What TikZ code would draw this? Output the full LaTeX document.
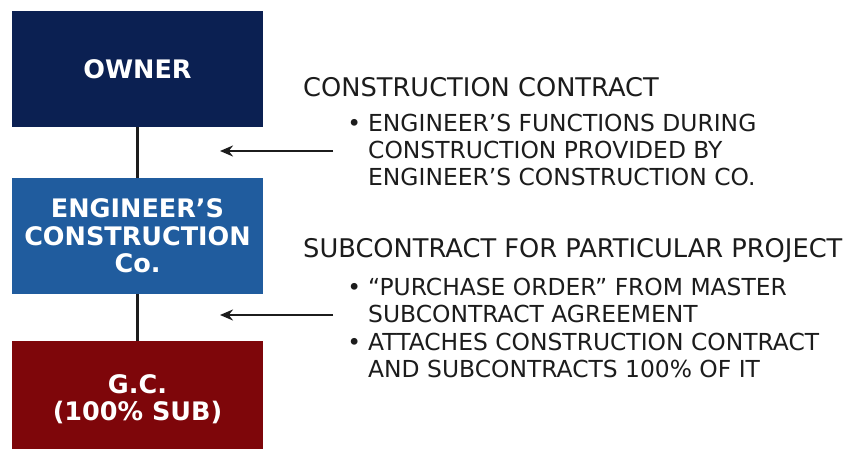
\documentclass[tikz,border=0pt]{standalone}
\usepackage{fontspec}
\setmainfont{DejaVu Sans}
\usetikzlibrary{arrows.meta}
\usetikzlibrary{positioning}
\definecolor{ownernavy}{RGB}{11,32,82}
\definecolor{engblue}{RGB}{32,92,158}
\definecolor{gcred}{RGB}{126,6,10}
\definecolor{textgray}{RGB}{28,28,28}

\begin{document}
\begin{tikzpicture}[x=1pt, y=-1pt,
    party/.style={rectangle, minimum width=251pt, minimum height=116pt, inner sep=0pt,
                  text=white, align=center, font=\fontsize{25.5}{27.5}\selectfont\bfseries},
    heading/.style={anchor=base west, inner sep=0pt, text=textgray,
                 font=\fontsize{25.7}{27}\selectfont},
    note/.style={anchor=base west, inner sep=0pt, align=left, text=textgray,
                 font=\fontsize{23.4}{27}\selectfont},
    link/.style={line width=2.2pt, textgray}]
        \useasboundingbox[fill=white] (0,0) rectangle (849,449);

        \node[party, fill=ownernavy] (owner) at (137.5,69)  {OWNER};
        \node[party, fill=engblue]   (eng)   at (137.5,236) {ENGINEER’S\\CONSTRUCTION\\Co.};
        \node[party, fill=gcred]     (gc)    at (137.5,399) {G.C.\\(100\% SUB)};

        \draw[link] (owner.south) -- (eng.north);
        \draw[link] (eng.south) -- (gc.north);

        % base anchor of the notes sits on their last line
        \node[heading] (cc)     at (303,97)  {CONSTRUCTION CONTRACT};
        \node[note]    (ccnote) at (368,186) {\llap{\textbullet\hspace{7pt}}ENGINEER’S FUNCTIONS DURING\\CONSTRUCTION PROVIDED BY\\ENGINEER’S CONSTRUCTION CO.};

        \node[heading] (sub)      at (303,258) {SUBCONTRACT FOR PARTICULAR PROJECT};
        \node[note]    (subnotea) at (368,322) {\llap{\textbullet\hspace{7pt}}“PURCHASE ORDER” FROM MASTER\\SUBCONTRACT AGREEMENT};
        \node[note]    (subnoteb) at (368,377) {\llap{\textbullet\hspace{7pt}}ATTACHES CONSTRUCTION CONTRACT\\AND SUBCONTRACTS 100\% OF IT};

        \coordinate (ccfrom)  at (333,151);
        \coordinate (ccto)    at (220,151);
        \coordinate (subfrom) at (333,315);
        \coordinate (subto)   at (220,315);

        \draw[link, -{Stealth[length=13pt, width=11pt]}] (ccfrom) -- (ccto);
        \draw[link, -{Stealth[length=13pt, width=11pt]}] (subfrom) -- (subto);
    \end{tikzpicture}
\end{document}
